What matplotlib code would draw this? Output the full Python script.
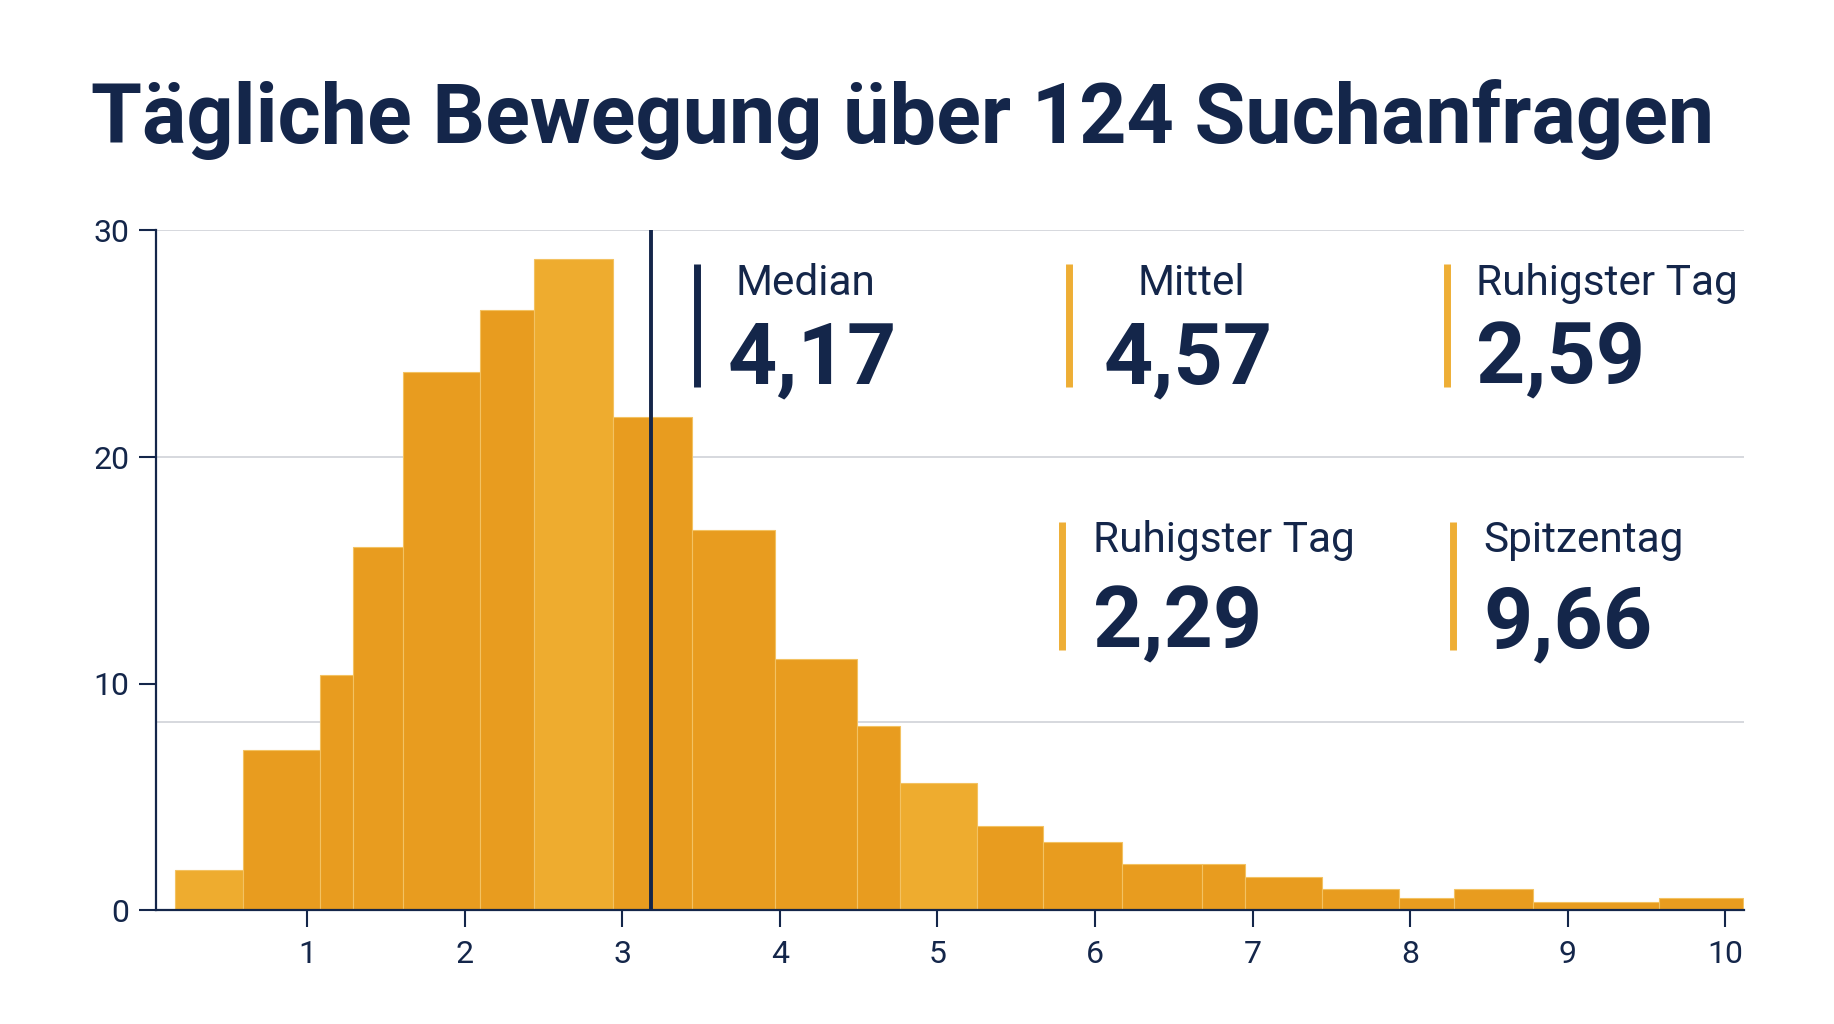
import numpy as np
import matplotlib
matplotlib.use('Agg')
from matplotlib import pyplot as plt

# bin edges and bar heights
bin_edges = [0.16, 0.59, 1.08, 1.29, 1.61, 2.10, 2.44, 2.94, 3.44, 3.97, 4.49, 4.76,
             5.25, 5.67, 6.17, 6.68, 6.95, 7.44, 7.93, 8.28, 8.78, 9.58, 10.11]
counts = [1.8, 7.07, 10.4, 16.04, 23.76, 26.49, 28.76, 21.76, 16.78, 11.1, 8.13,
          5.63, 3.74, 3.0, 2.03, 2.03, 1.46, 0.95, 0.54, 0.95, 0.38, 0.56]
light_bars = [0, 6, 11]
median_line = 3.18
grid_values = [30, 20, 8.33]
y_ticks = [0, 10, 20, 30]
x_ticks = [1, 2, 3, 4, 5, 6, 7, 8, 9, 10]

stat_labels = ['Median', 'Mittel', 'Ruhigster Tag', 'Ruhigster Tag', 'Spitzentag']
stat_values = ['4,17', '4,57', '2,59', '2,29', '9,66']

title = 'Tägliche Bewegung über 124 Suchanfragen'

navy = '#14264a'
orange = '#e89c1f'
orange_light = '#eeac2f'
accent = '#eeae35'

plt.rcParams['font.family'] = ['Roboto', 'DejaVu Sans']

fig = plt.figure(figsize=(18.34, 10.24), dpi=100, facecolor='white')
ax = fig.add_axes([0.085, 0.111, 0.866, 0.664])

edges = np.array(bin_edges)
widths = np.diff(edges)
colors = [orange_light if i in light_bars else orange for i in range(len(counts))]
ax.bar(edges[:-1], counts, width=widths, align='edge', color=colors,
       edgecolor='#f3c262', linewidth=0.8, zorder=2)

for g in grid_values:
    ax.axhline(g, color='#d3d6db', linewidth=1.3, zorder=1)

ax.axvline(median_line, color=navy, linewidth=2.8, zorder=3)

ax.set_xlim(0.04, 10.12)
ax.set_ylim(0, 30)
ax.set_xticks(x_ticks)
ax.set_yticks(y_ticks)
ax.tick_params(axis='both', colors=navy, labelsize=23, width=1.5, length=12, pad=7)
ax.tick_params(axis='x', pad=9)
for side in ['top', 'right']:
    ax.spines[side].set_visible(False)
for side in ['left', 'bottom']:
    ax.spines[side].set_color(navy)
    ax.spines[side].set_linewidth(1.6)
ax.spines['bottom'].set_zorder(4)

fig.text(0.0498, 0.883, title, fontsize=59.5, fontweight='bold', color=navy,
         ha='left', va='center')

# stat blocks: (bar x, label x, value x, top, bottom, label y, value y, bar colour)
blocks = [
    (0.380, 0.401, 0.397, 0.742, 0.622, 0.723, 0.648, navy),
    (0.583, 0.620, 0.602, 0.742, 0.622, 0.723, 0.648, accent),
    (0.789, 0.805, 0.805, 0.742, 0.622, 0.723, 0.648, accent),
    (0.579, 0.596, 0.596, 0.490, 0.365, 0.472, 0.391, accent),
    (0.792, 0.809, 0.809, 0.490, 0.365, 0.472, 0.391, accent),
]
for (bx, lx, vx, top, bot, ly, vy, c), lab, val in zip(blocks, stat_labels, stat_values):
    fig.add_artist(plt.Line2D([bx, bx], [bot, top], color=c, linewidth=5,
                              solid_capstyle='butt', transform=fig.transFigure))
    fig.text(lx, ly, lab, fontsize=30.5, color=navy, ha='left', va='center')
    fig.text(vx, vy, val, fontsize=62, fontweight='bold', color=navy,
             ha='left', va='center')

plt.savefig('out.png', dpi=100, facecolor='white')
